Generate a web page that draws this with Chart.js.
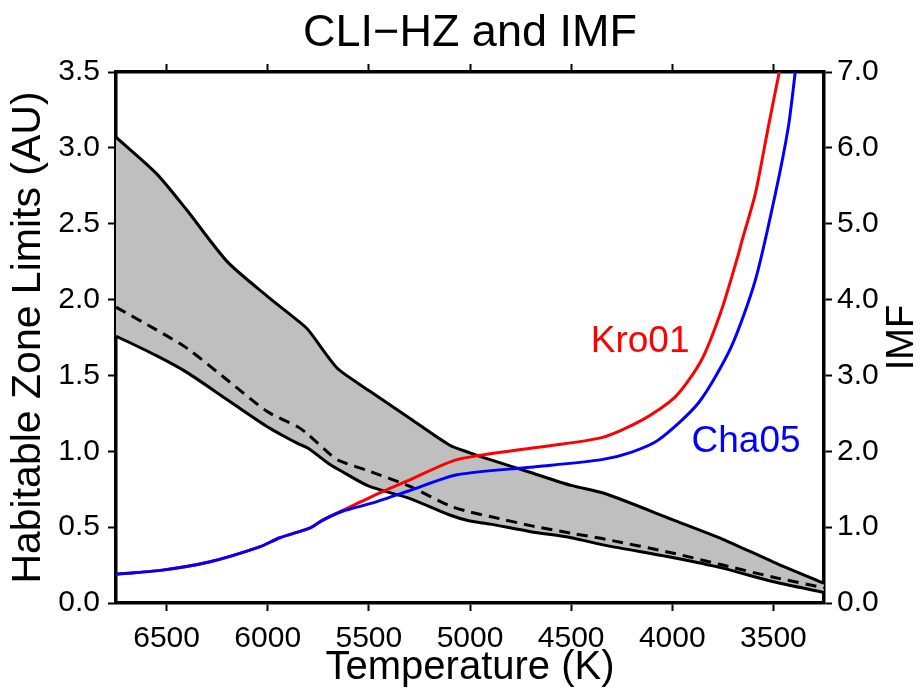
<!DOCTYPE html>
<html>
<head>
<meta charset="utf-8">
<script src="https://cdn.jsdelivr.net/npm/chart.js@4.4.1/dist/chart.umd.min.js"></script>
<style>
    html, body { margin: 0; padding: 0; background: #fff; }
    #grafico { display: block; }
</style>
</head>
<body>
<canvas id="grafico" width="922" height="692"></canvas>
<script>
// Límites de la zona habitable (AU) sobre una misma grilla de temperatura
const tempHZ = [6750, 6550, 6400, 6200, 6000, 5850, 5800, 5700, 5650, 5500, 5300, 5100, 5000, 4900, 4700, 4500, 4330, 4000, 3750, 3500, 3250];
const hzExterior = [3.07, 2.83, 2.59, 2.25, 2.02, 1.86, 1.80, 1.62, 1.54, 1.40, 1.22, 1.04, 0.99, 0.945, 0.86, 0.775, 0.72, 0.55, 0.42, 0.27, 0.13];
const hzInterior = [1.76, 1.63, 1.52, 1.34, 1.16, 1.05, 1.02, 0.92, 0.88, 0.77, 0.69, 0.58, 0.54, 0.52, 0.47, 0.43, 0.38, 0.30, 0.23, 0.14, 0.07];
const hzMedio = [1.95, 1.80, 1.68, 1.47, 1.26, 1.16, 1.11, 0.99, 0.94, 0.87, 0.77, 0.64, 0.60, 0.57, 0.51, 0.46, 0.42, 0.33, 0.25, 0.17, 0.10];

// IMF (eje derecho)
const tempKro = [6750, 6530, 6290, 6040, 5940, 5790, 5730, 5630, 5480, 5300, 5064, 4700, 4349, 4150, 3984, 3856, 3757, 3673, 3655, 3589, 3525, 3471];
const imfKro = [0.38, 0.43, 0.54, 0.74, 0.86, 0.99, 1.09, 1.22, 1.41, 1.62, 1.89, 2.04, 2.18, 2.41, 2.72, 3.20, 3.86, 4.60, 4.78, 5.40, 6.28, 7.00];
const tempCha = [6750, 6530, 6290, 6040, 5940, 5790, 5730, 5630, 5480, 5300, 5064, 4700, 4349, 4200, 4068, 3870, 3708, 3589, 3490, 3426, 3392];
const imfCha = [0.38, 0.43, 0.54, 0.74, 0.86, 0.99, 1.09, 1.21, 1.32, 1.48, 1.69, 1.79, 1.89, 1.99, 2.15, 2.64, 3.38, 4.26, 5.40, 6.28, 7.00];

// Marcas del eje de temperatura
const ticksTemp = [6500, 6000, 5500, 5000, 4500, 4000, 3500];

const fuente = "'Liberation Sans', Arial, sans-serif";
Chart.defaults.font.family = fuente;
Chart.defaults.color = '#000';

const aPuntos = (xs, ys) => xs.map((x, i) => ({ x: x, y: ys[i] }));

// Configuración común de grilla / borde (marcas hacia afuera)
const grilla = { display: true, drawOnChartArea: false, drawTicks: true, tickLength: 8, tickWidth: 2, tickColor: '#000' };
const borde = { display: true, width: 3.5, color: '#000' };

// Textos que no maneja Chart.js directamente
const textosExtra = {
    id: 'textosExtra',
    afterDraw(chart) {
        const { ctx, chartArea, scales } = chart;
        ctx.save();
        ctx.fillStyle = '#000';
        ctx.font = `45px ${fuente}`;
        ctx.textAlign = 'center';
        ctx.textBaseline = 'alphabetic';
        ctx.fillText('CLI\u2212HZ and IMF', (chartArea.left + chartArea.right) / 2, 46);

        // título del eje derecho, leído de abajo hacia arriba
        ctx.save();
        ctx.translate(903, (chartArea.top + chartArea.bottom) / 2);
        ctx.rotate(-Math.PI / 2);
        ctx.font = `38px ${fuente}`;
        ctx.textBaseline = 'middle';
        ctx.fillText('IMF', 0, 0);
        ctx.restore();

        ctx.font = `37px ${fuente}`;
        ctx.textAlign = 'left';
        ctx.fillStyle = '#ff0000';
        ctx.fillText('Kro01', scales.x.getPixelForValue(4403), scales.y2.getPixelForValue(3.31));
        ctx.fillStyle = '#0000ff';
        ctx.fillText('Cha05', scales.x.getPixelForValue(3905), scales.y2.getPixelForValue(1.99));
        ctx.restore();
    }
};

const ctx = document.getElementById('grafico').getContext('2d');
new Chart(ctx, {
    type: 'line',
    data: {
        datasets: [
            {
                label: 'Cha05',
                data: aPuntos(tempCha, imfCha),
                yAxisID: 'y2',
                borderColor: '#0000ff',
                borderWidth: 3,
                pointRadius: 0,
                tension: 0.25,
                fill: false
            },
            {
                label: 'Kro01',
                data: aPuntos(tempKro, imfKro),
                yAxisID: 'y2',
                borderColor: '#ff0000',
                borderWidth: 3,
                pointRadius: 0,
                tension: 0.25,
                fill: false
            },
            {
                label: 'HZ exterior',
                data: aPuntos(tempHZ, hzExterior),
                yAxisID: 'y',
                borderColor: '#000',
                borderWidth: 3,
                pointRadius: 0,
                tension: 0.25,
                fill: '+1',
                backgroundColor: '#bfbfbf'
            },
            {
                label: 'HZ interior',
                data: aPuntos(tempHZ, hzInterior),
                yAxisID: 'y',
                borderColor: '#000',
                borderWidth: 3,
                pointRadius: 0,
                tension: 0.25,
                fill: false
            },
            {
                label: 'HZ medio',
                data: aPuntos(tempHZ, hzMedio),
                yAxisID: 'y',
                borderColor: '#000',
                borderWidth: 3,
                borderDash: [11, 7],
                pointRadius: 0,
                tension: 0.25,
                fill: false
            }
        ]
    },
    options: {
        responsive: false,
        animation: false,
        layout: { padding: 0 },
        plugins: {
            legend: { display: false },
            title: { display: false },
            tooltip: { enabled: false },
            filler: { drawTime: 'beforeDatasetsDraw' }
        },
        scales: {
            x: {
                type: 'linear',
                position: 'bottom',
                min: 3250,
                max: 6750,
                reverse: true,
                grid: grilla,
                border: borde,
                afterBuildTicks: (escala) => { escala.ticks = ticksTemp.map(v => ({ value: v })); },
                afterFit: (escala) => { escala.height = 89; },
                ticks: {
                    autoSkip: false,
                    maxRotation: 0,
                    padding: 10,
                    font: { size: 30 },
                    callback: (v) => String(v)
                },
                title: {
                    display: true,
                    text: 'Temperature (K)',
                    font: { size: 40 },
                    padding: { top: 0, bottom: 0 }
                }
            },
            x2: {
                type: 'linear',
                position: 'top',
                min: 3250,
                max: 6750,
                reverse: true,
                grid: grilla,
                border: borde,
                afterBuildTicks: (escala) => { escala.ticks = ticksTemp.map(v => ({ value: v })); },
                afterFit: (escala) => { escala.height = 72; },
                ticks: { display: false }
            },
            y: {
                position: 'left',
                min: 0,
                max: 3.5,
                grid: grilla,
                border: borde,
                afterFit: (escala) => { escala.width = 116; },
                ticks: {
                    stepSize: 0.5,
                    padding: 8,
                    font: { size: 30 },
                    callback: (v) => v.toFixed(1)
                },
                title: {
                    display: true,
                    text: 'Habitable Zone Limits (AU)',
                    font: { size: 41 },
                    padding: { top: 4, bottom: 0 }
                }
            },
            y2: {
                position: 'right',
                min: 0,
                max: 7,
                grid: grilla,
                border: borde,
                afterFit: (escala) => { escala.width = 98; },
                ticks: {
                    stepSize: 1,
                    padding: 5,
                    font: { size: 30 },
                    callback: (v) => v.toFixed(1)
                }
            }
        }
    },
    plugins: [textosExtra]
});
</script>
</body>
</html>
